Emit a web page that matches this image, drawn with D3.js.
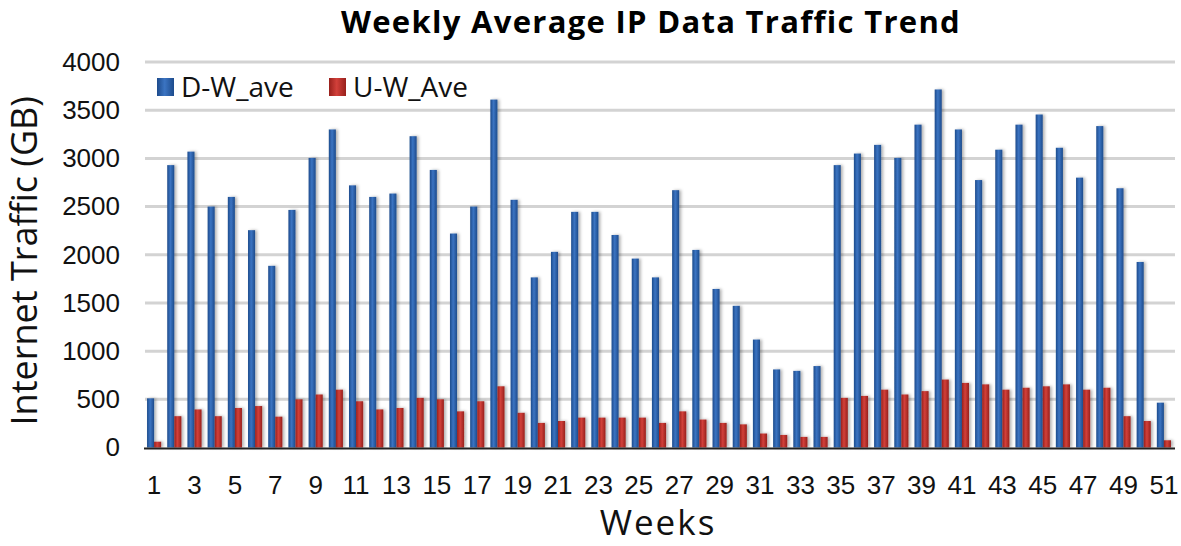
<!DOCTYPE html>
<html>
<head>
<meta charset="utf-8">
<script src="https://cdn.jsdelivr.net/npm/d3@7"></script>
<style>
  html, body { margin: 0; padding: 0; background: #fff; }
  svg { display: block; font-family: 'Open Sans', sans-serif; }
  .tick-label { font-size: 26px; fill: #111; }
  .axis-label { font-size: 36px; fill: #111; }
  .chart-title { font-size: 31px; font-weight: 700; fill: #000; letter-spacing: 1.3px; }
  .legend-text { font-size: 28px; fill: #111; }
</style>
</head>
<body>
<div id="app"></div>
<script>
const weeks = d3.range(1, 52)

const downloadAvg = [
  510, 2930, 3070, 2500, 2600, 2255, 1885, 2465, 3005, 3300,
  2720, 2600, 2635, 3230, 2880, 2220, 2500, 3610, 2570, 1765,
  2030, 2445, 2445, 2205, 1960, 1765, 2670, 2050, 1645, 1470,
  1120, 810, 795, 845, 2930, 3050, 3140, 3005, 3350, 3715,
  3300, 2775, 3090, 3350, 3455, 3110, 2800, 3335, 2690, 1925,
  465
]

const uploadAvg = [
  60, 325, 395, 325, 410, 430, 320, 500, 550, 600,
  480, 395, 410, 515, 500, 375, 480, 635, 360, 255,
  275, 310, 310, 310, 310, 255, 375, 290, 255, 240,
  145, 130, 110, 110, 515, 535, 600, 550, 585, 705,
  670, 655, 600, 620, 635, 655, 600, 620, 325, 275,
  75
]

const seriesNames = ['D-W_ave', 'U-W_Ave']
const yTicks = [0, 500, 1000, 1500, 2000, 2500, 3000, 3500, 4000]

const W = 1181, H = 546
const plot = { left: 144, right: 1174, top: 62, bottom: 447.5 }

const svg = d3.select('#app').append('svg')
  .attr('width', W)
  .attr('height', H)

const defs = svg.append('defs')

function barGradient(id, edge, mid) {
  const g = defs.append('linearGradient').attr('id', id)
    .attr('x1', '0%').attr('x2', '100%').attr('y1', '0%').attr('y2', '0%')
  g.append('stop').attr('offset', '0%').attr('stop-color', edge)
  g.append('stop').attr('offset', '45%').attr('stop-color', mid)
  g.append('stop').attr('offset', '100%').attr('stop-color', edge)
}
barGradient('gradBlue', '#1d4b8c', '#3b74c2')
barGradient('gradRed', '#98201c', '#d2403a')

defs.append('filter').attr('id', 'shadow')
  .attr('x', '-50%').attr('y', '-10%').attr('width', '200%').attr('height', '120%')
  .append('feDropShadow')
  .attr('dx', 2).attr('dy', 0).attr('stdDeviation', 1.5)
  .attr('flood-color', '#000').attr('flood-opacity', 0.3)

const x = d3.scaleBand()
  .domain(weeks)
  .range([plot.left, plot.right])
  .paddingInner(0.3)
  .paddingOuter(0.15)

const xSub = d3.scaleBand()
  .domain(seriesNames)
  .range([0, x.bandwidth()])

const y = d3.scaleLinear()
  .domain([0, 4000])
  .range([plot.bottom, plot.top])

// Gridlines
svg.append('g')
  .selectAll('line')
  .data(yTicks.filter(d => d > 0))
  .join('line')
  .attr('x1', plot.left + 1)
  .attr('x2', plot.right + 1)
  .attr('y1', d => y(d))
  .attr('y2', d => y(d))
  .attr('stroke', '#d3d3d3')
  .attr('stroke-width', 3)

// Bars
const series = [
  { name: seriesNames[0], values: downloadAvg, fill: 'url(#gradBlue)' },
  { name: seriesNames[1], values: uploadAvg, fill: 'url(#gradRed)' },
]

series.forEach(s => {
  svg.append('g')
    .attr('filter', 'url(#shadow)')
    .selectAll('rect')
    .data(weeks)
    .join('rect')
    .attr('x', d => x(d) + xSub(s.name))
    .attr('y', (d, i) => y(s.values[i]))
    .attr('width', xSub.bandwidth())
    .attr('height', (d, i) => plot.bottom - y(s.values[i]))
    .attr('fill', s.fill)
})

// X axis baseline
svg.append('line')
  .attr('x1', plot.left).attr('x2', plot.right + 1)
  .attr('y1', plot.bottom + 1).attr('y2', plot.bottom + 1)
  .attr('stroke', '#222').attr('stroke-width', 2)

// Y axis tick labels
const yAxis = svg.append('g')
  .attr('transform', `translate(${plot.left - 24},0)`)
  .call(d3.axisLeft(y).tickValues(yTicks).tickFormat(d3.format('d')).tickSize(0).tickPadding(0))
yAxis.select('.domain').remove()
yAxis.selectAll('text')
  .attr('class', 'tick-label')
  .attr('font-family', null).attr('font-size', null).attr('fill', null)

// X axis tick labels (odd weeks)
const xAxis = svg.append('g')
  .attr('transform', `translate(0,${plot.bottom + 28})`)
  .call(d3.axisBottom(x).tickValues(weeks.filter(d => d % 2 === 1)).tickSize(0).tickPadding(0))
xAxis.select('.domain').remove()
xAxis.selectAll('text')
  .attr('class', 'tick-label')
  .attr('font-family', null).attr('font-size', null).attr('fill', null)
  .attr('dy', '0.71em')

// Axis labels
svg.append('text')
  .attr('class', 'axis-label')
  .attr('transform', `translate(37,${(plot.top + plot.bottom) / 2 + 6}) rotate(-90)`)
  .attr('text-anchor', 'middle')
  .text('Internet Traffic (GB)')

svg.append('text')
  .attr('class', 'axis-label')
  .attr('x', 658)
  .attr('y', 535)
  .attr('text-anchor', 'middle')
  .style('font-size', '35px')
  .style('letter-spacing', '2px')
  .text('Weeks')

// Title
svg.append('text')
  .attr('class', 'chart-title')
  .attr('x', 651)
  .attr('y', 33)
  .attr('text-anchor', 'middle')
  .text('Weekly Average IP Data Traffic Trend')

// Legend
const legend = svg.append('g').attr('transform', 'translate(157,78)')
const legendX = [0, 172]
series.forEach((s, i) => {
  const g = legend.append('g').attr('transform', `translate(${legendX[i]},0)`)
  g.append('rect')
    .attr('width', 17).attr('height', 18)
    .attr('fill', s.fill)
  g.append('text')
    .attr('class', 'legend-text')
    .attr('x', 24)
    .attr('y', 19)
    .text(s.name)
})
</script>
</body>
</html>
